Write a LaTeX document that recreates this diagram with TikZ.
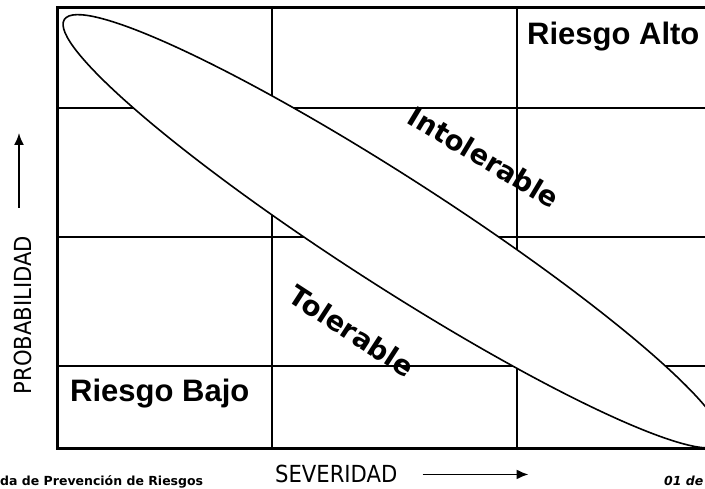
\documentclass[tikz,border=0pt]{standalone}
\usepackage{fontspec}
\usepackage{tikz}
\usetikzlibrary{arrows.meta,positioning}
\newfontfamily\lsansfont{Liberation Sans}
\newfontfamily\dvsansfont{DejaVu Sans}
\newfontfamily\dvcondfont{DejaVu Sans Condensed}

\begin{document}
\begin{tikzpicture}[x=1pt, y=1pt,
    frameline/.style={line width=3pt},
    cellline/.style={line width=2pt},
    zoneline/.style={line width=1.6pt, fill=white},
    riskbig/.style={font=\lsansfont\bfseries\fontsize{31}{36}\selectfont,
      inner sep=0pt, anchor=base west},
    zonelbl/.style={font=\dvsansfont\bfseries\fontsize{27.5}{31}\selectfont,
      inner sep=0pt},
    axislbl/.style={font=\dvcondfont\fontsize{23.5}{27}\selectfont,
      inner sep=0pt},
    footlbl/.style={font=\dvsansfont\bfseries\fontsize{12.5}{15}\selectfont,
      inner sep=0pt, anchor=base west},
    axarr/.style={-{Latex[length=12pt, width=10pt]}, line width=1.8pt}]
  \useasboundingbox (0,0) rectangle (705,489);
  \clip (0,0) rectangle (705,489);
  % --- Matrix cells ---
  \draw[cellline] (57,381) -- (760,381);
  \draw[cellline] (57,252) -- (760,252);
  \draw[cellline] (57,123) -- (760,123);
  \draw[cellline] (272,40) -- (272,481);
  \draw[cellline] (517,40) -- (517,481);
  \draw[frameline] (760,481) -- (57,481) -- (57,40) -- (760,40);
  % --- Tolerance band ---
  \draw[zoneline, rotate around={-32.8:(393,257.7)}]
    (393,257.7) ellipse [x radius=391, y radius=54];
  % --- Risk labels ---
  \node[riskbig] (alto) at (527,444) {Riesgo Alto};
  \node[riskbig] (bajo) at (70,87) {Riesgo Bajo};
  \node[zonelbl, rotate=-31] (intol) at (484,332) {Intolerable};
  \node[zonelbl, rotate=-33] (tol) at (352,158) {Tolerable};
  % --- Axes ---
  \node[axislbl, rotate=90] (prob) at (23,174) {PROBABILIDAD};
  \coordinate (probtail) at (19,281);
  \coordinate (probtip) at (19,356);
  \draw[axarr] (probtail) -- (probtip);
  \node[axislbl, anchor=base west] (sev) at (275,6) {SEVERIDAD};
  \coordinate[right=25pt of sev] (sevtail);
  \coordinate[right=106pt of sevtail] (sevtip);
  \draw[axarr] (sevtail) -- (sevtip);
  % --- Page footer ---
  \node[footlbl] (footl) at (0,3) {da de Prevención de Riesgos};
  \node[footlbl, font=\dvsansfont\bfseries\itshape\fontsize{12.5}{15}\selectfont]
    (footr) at (664,3) {01 de};
\end{tikzpicture}
\end{document}
